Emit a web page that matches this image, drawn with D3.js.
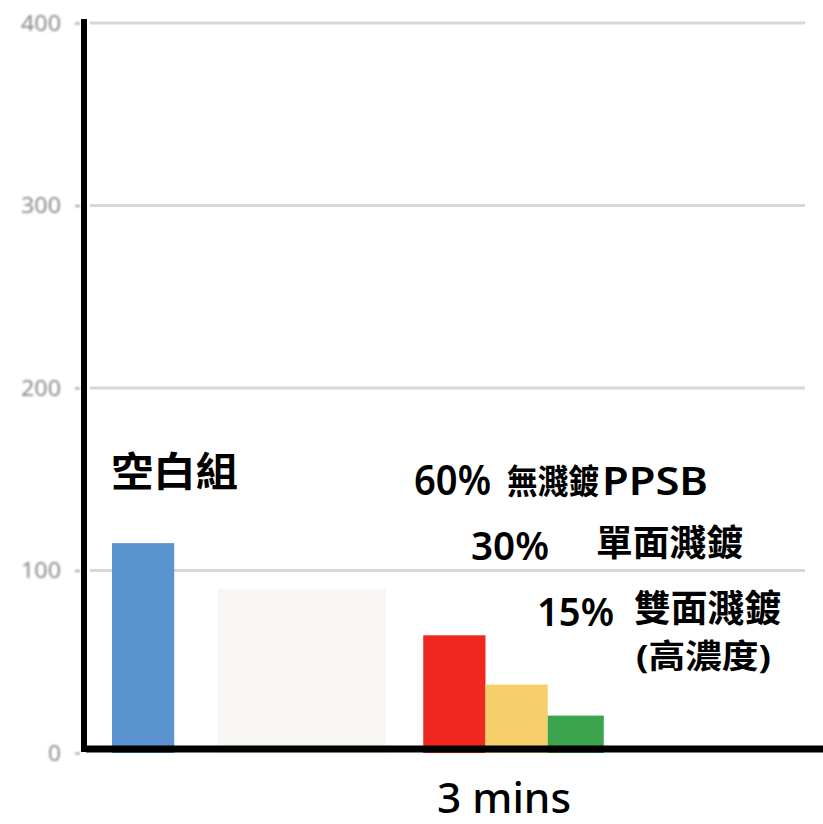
<!DOCTYPE html>
<html>
<head>
<meta charset="utf-8">
<script src="https://cdn.jsdelivr.net/npm/d3@7"></script>
<style>
  html, body { margin: 0; padding: 0; background: #ffffff; }
  svg { display: block; }
</style>
</head>
<body>
<svg id="chart" width="823" height="824"></svg>
<script>
// ---- data ----
const groups = ["空白組", "遮蓋", "60%", "30%", "15%"];
const values = [115, 90, 64.5, 37.5, 20.5];
const colors = ["#5b93d1", "#f8f7f3", "#f1281f", "#f6cf6b", "#3ba34b"];
const yTicks = [0, 100, 200, 300, 400];
const yTickLabels = ["0", "100", "200", "300", "400"];
const xLabel = "3 mins";

// horizontal placement of each bar, in bar-width units
const slots = [[0, 1], [1.7, 4.4], [5, 6], [6, 7], [7, 7.9]];

const svg = d3.select("#chart");
const defs = svg.append("defs");
defs.append("filter").attr("id", "soft")
  .attr("x", "-20%").attr("y", "-20%").attr("width", "140%").attr("height", "140%")
  .append("feGaussianBlur").attr("stdDeviation", 1.2);

const y = d3.scaleLinear().domain([0, 400]).range([753, 23]);
const x = d3.scaleLinear().domain([0, 8]).range([112, 610]);

// grid lines
svg.append("g")
  .selectAll("line").data(yTicks.filter(d => d > 0)).join("line")
  .attr("x1", 90).attr("x2", 805)
  .attr("y1", d => y(d)).attr("y2", d => y(d))
  .attr("stroke", "#d8d8d8").attr("stroke-width", 3);

// y axis tick labels and tick marks (grey, soft)
const yAxis = d3.axisLeft(y).tickValues(yTicks)
  .tickFormat((d, i) => yTickLabels[i]).tickSize(5).tickPadding(14);
const ya = svg.append("g").attr("transform", "translate(80,0)")
  .attr("filter", "url(#soft)").call(yAxis);
ya.select(".domain").remove();
ya.selectAll(".tick line").attr("stroke", "#a0a0a0").attr("stroke-width", 2);
ya.selectAll(".tick text")
  .attr("fill", "#8a8a8a")
  .attr("textLength", d => d === 0 ? 13 : 40)
  .attr("lengthAdjust", "spacingAndGlyphs")
  .style("font-family", "'Noto Sans', sans-serif")
  .style("font-size", "22px");

// bars
svg.append("g")
  .selectAll("rect").data(groups).join("rect")
  .attr("x", (d, i) => x(slots[i][0]))
  .attr("width", (d, i) => x(slots[i][1]) - x(slots[i][0]))
  .attr("y", (d, i) => y(values[i]))
  .attr("height", (d, i) => y(0) - y(values[i]))
  .attr("fill", (d, i) => colors[i]);

// axis lines
svg.append("line").attr("x1", 84).attr("x2", 84).attr("y1", 19).attr("y2", 752)
  .attr("stroke", "#000").attr("stroke-width", 6);
svg.append("line").attr("x1", 86).attr("x2", 823).attr("y1", 749).attr("y2", 749)
  .attr("stroke", "#000").attr("stroke-width", 7);

// annotations: each label is one text element made of styled runs
const latin = "'Noto Sans', 'Open Sans', sans-serif";
const cjk = "'Noto Sans CJK TC', 'Noto Sans CJK SC', sans-serif";
const cjkTight = "'Noto Sans', 'Noto Sans CJK TC', 'Noto Sans CJK SC', sans-serif";
const L = (t, x, y, s, len, w = 600) => ({ t, x, y, s, len, f: latin, w });
const C = (t, x, y, s, len, f = cjk) => ({ t, x, y, s, len, f, w: 700 });
const notes = [
  [C("空白組", 111, 486, 40, 127)],
  [L("60%", 414, 495, 41, 77), C("無濺鍍", 507, 494, 34, 92), L("PPSB", 602, 495, 39, 106)],
  [L("30%", 471, 560, 40, 78), C("單面濺鍍", 596, 556, 36, 147)],
  [L("15%", 537, 626, 40, 77), C("雙面濺鍍", 634, 622, 37, 147, cjkTight),
   C("(高濃度)", 636, 668, 33, 135, cjkTight)],
  [L(xLabel, 437, 813, 42, 134, 500)]
];
const labels = svg.append("g").selectAll("text").data(notes).join("text")
  .attr("fill", "#000");
labels.selectAll("tspan").data(d => d).join("tspan")
  .attr("x", d => d.x).attr("y", d => d.y)
  .attr("textLength", d => d.len)
  .attr("lengthAdjust", "spacingAndGlyphs")
  .style("font-family", d => d.f)
  .style("font-size", d => d.s + "px")
  .style("font-weight", d => d.w)
  .text(d => d.t);
</script>
</body>
</html>
